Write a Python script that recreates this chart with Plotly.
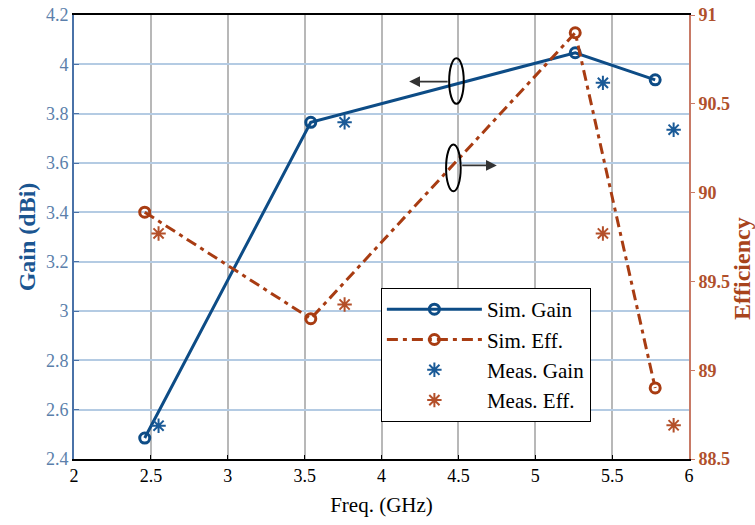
import plotly.graph_objects as go

# Data
sim_freq = [2.46, 3.54, 5.26, 5.78]
sim_gain = [2.485, 3.765, 4.047, 3.937]
sim_eff = [89.89, 89.29, 90.90, 88.90]

meas_freq = [2.55, 3.76, 5.44, 5.90]
meas_gain = [2.535, 3.765, 3.925, 3.735]
meas_eff = [89.77, 89.37, 89.77, 88.69]

x_ticks = [2, 2.5, 3, 3.5, 4, 4.5, 5, 5.5, 6]
gain_ticks = [2.4, 2.6, 2.8, 3, 3.2, 3.4, 3.6, 3.8, 4, 4.2]
eff_ticks = [88.5, 89, 89.5, 90, 90.5, 91]

BLUE = "#0d4c86"
BROWN = "#a83c12"
SERIF = "Liberation Serif"

fig = go.Figure()

fig.add_trace(go.Scatter(
    x=sim_freq, y=sim_gain, name="Sim. Gain", mode="lines+markers",
    line=dict(color=BLUE, width=3),
    marker=dict(symbol="circle-open", size=10, color=BLUE, line=dict(width=3)),
))
fig.add_trace(go.Scatter(
    x=sim_freq, y=sim_eff, name="Sim. Eff.", mode="lines+markers", yaxis="y2",
    line=dict(color=BROWN, width=3, dash="11px,5px,4px,5px"),
    marker=dict(symbol="circle-open", size=10, color=BROWN, line=dict(width=3)),
))
fig.add_trace(go.Scatter(
    x=meas_freq, y=meas_gain, name="Meas. Gain", mode="markers",
    marker=dict(symbol="asterisk-open", size=12, color="#1a5a97", line=dict(width=2, color="#1a5a97")),
))
fig.add_trace(go.Scatter(
    x=meas_freq, y=meas_eff, name="Meas. Eff.", mode="markers", yaxis="y2",
    marker=dict(symbol="asterisk-open", size=12, color="#b4502a", line=dict(width=2, color="#b4502a")),
))

# Ellipses with arrows
fig.add_shape(type="circle", xref="x", yref="y", x0=4.44, x1=4.535, y0=3.84, y1=4.025,
              line=dict(color="black", width=2))
fig.add_shape(type="circle", xref="x", yref="y", x0=4.42, x1=4.515, y0=3.485, y1=3.675,
              line=dict(color="black", width=2))
fig.add_annotation(x=4.18, y=3.93, ax=4.44, ay=3.93, xref="x", yref="y", axref="x", ayref="y",
                   showarrow=True, arrowhead=2, arrowsize=1.2, arrowwidth=1.8, arrowcolor="#333", text="")
fig.add_annotation(x=4.75, y=3.59, ax=4.515, ay=3.59, xref="x", yref="y", axref="x", ayref="y",
                   showarrow=True, arrowhead=2, arrowsize=1.2, arrowwidth=1.8, arrowcolor="#333", text="")

# Right axis title
fig.add_annotation(x=1.086, y=0.43, xref="paper", yref="paper", text="<b>Efficiency</b>",
                   textangle=-90, showarrow=False, xanchor="center", yanchor="middle",
                   font=dict(family=SERIF, size=24, color="#a8441c"))

fig.update_layout(
    width=755, height=525,
    margin=dict(l=74, r=66, t=15, b=66, autoexpand=False),
    plot_bgcolor="white", paper_bgcolor="white",
    font=dict(family=SERIF, size=16, color="black"),
    showlegend=True,
    legend=dict(x=0.499, y=0.385, xanchor="left", yanchor="top",
                bgcolor="white", bordercolor="black", borderwidth=1,
                font=dict(family=SERIF, size=21, color="black"),
                tracegroupgap=0, itemwidth=95),
    xaxis=dict(
        range=[2, 6], tickvals=x_ticks, ticktext=[f"{v:g}" for v in x_ticks],
        showgrid=True, gridcolor="#b8b8b8", gridwidth=1.5, automargin=False,
        showline=True, linecolor="black", linewidth=1.5, mirror=True,
        ticks="inside", ticklen=4, tickcolor="black", zeroline=False,
        tickfont=dict(family=SERIF, size=18, color="black"),
        title=dict(text="Freq. (GHz)", font=dict(family=SERIF, size=21, color="black"), standoff=12),
    ),
    yaxis=dict(
        range=[2.4, 4.2], tickvals=gain_ticks, ticktext=[f"{v:g}" for v in gain_ticks],
        showgrid=True, gridcolor="#b4cbe3", gridwidth=1.5, automargin=False,
        showline=True, linecolor="#4a72a8", linewidth=2,
        ticks="inside", ticklen=5, tickcolor="#4a72a8", zeroline=False,
        tickfont=dict(family=SERIF, size=18, color="#5b7fab"),
        title=dict(text="<b>Gain (dBi)</b>", font=dict(family=SERIF, size=24, color="#1b5590"), standoff=4),
    ),
    yaxis2=dict(
        range=[88.5, 91], tickvals=eff_ticks, ticktext=[f"{v:g}" for v in eff_ticks],
        overlaying="y", side="right", showgrid=False, automargin=False,
        showline=True, linecolor="#c87a66", linewidth=2,
        ticks="outside", ticklen=4, tickcolor="#c87a66", zeroline=False,
        tickfont=dict(family=SERIF, size=18, color="#b0502c", weight="bold"),
    ),
)

fig.write_html("out.html")
